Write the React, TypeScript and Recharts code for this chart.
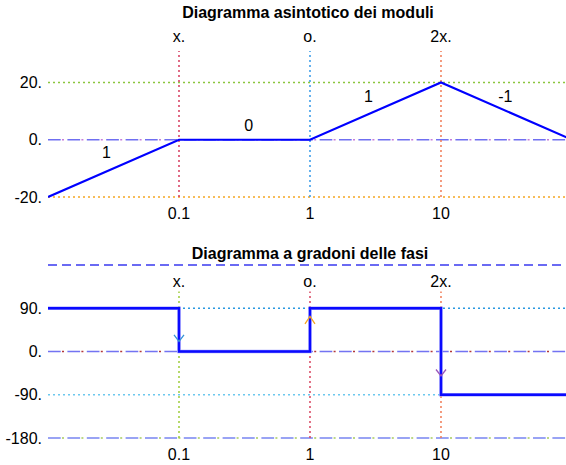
import React from 'react';
import { ComposedChart, Line, XAxis, YAxis, ReferenceLine, Scatter } from 'recharts';

// ---- data ----
const magFreqs = [0.01, 0.1, 1, 10, 100];
const magValues = [-20, 0, 0, 20, 0];
const phaseFreqs = [0.01, 0.1, 0.1, 1, 1, 10, 10, 100];
const phaseValues = [90, 90, 0, 0, 90, 90, -90, -90];
const breakFreqs = [0.1, 1, 10];
const breakLabels = ['x.', 'o.', '2x.'];
const freqTicks = [0.1, 1, 10];
const magTicks = [-20, 0, 20];
const phaseTicks = [-180, -90, 0, 90];
const slopeLabelFreqs = [0.028, 0.34, 2.8, 31];
const slopeLabelValues = [-4.5, 4.9, 15.1, 15.1];
const slopeLabelTexts = ['1', '0', '1', '-1'];
const arrowFreqs = [0.1, 1, 10];
const arrowValues = [21, 73, -51];
const arrowDirs = ['down', 'up', 'down'];
const titles = ['Diagramma asintotico dei moduli', 'Diagramma a gradoni delle fasi'];

// ---- styles ----
const FONT = '"Liberation Sans", Arial, sans-serif';
const FS = 16;
const magVColors = ['#d63a5e', '#3398e8', '#f07a55'];
const phaseVColors = ['#9ccc3a', '#d8425e', '#f07a55'];
const arrowColors = ['#3393d6', '#f5a623', '#9b55b8'];
const DOT = '2 3';

const magData = magFreqs.map((f, i) => ({ f, v: magValues[i] }));
const phaseData = phaseFreqs.map((f, i) => ({ f, v: phaseValues[i] }));
const slopeData = slopeLabelFreqs.map((f, i) => ({ f, v: slopeLabelValues[i], t: slopeLabelTexts[i] }));
const arrowData = arrowFreqs.map((f, i) => ({ f, v: arrowValues[i], d: arrowDirs[i], c: arrowColors[i] }));

const tickStyle = { fill: '#000', fontSize: FS, fontFamily: FONT };

const SlopeText = (props: any) => {
  const { cx, cy, payload } = props;
  return (
    <text x={cx} y={cy} textAnchor="middle" dominantBaseline="central" fontSize={FS} fontFamily={FONT} fill="#000">
      {payload.t}
    </text>
  );
};

const Chevron = (props: any) => {
  const { cx, cy, payload } = props;
  const s = payload.d === 'down' ? -6.5 : 7.5;
  return (
    <path d={`M${cx - 5},${cy + s} L${cx},${cy} L${cx + 5},${cy + s}`} fill="none" stroke={payload.c} strokeWidth={1.3} />
  );
};

const xAxisProps = {
  dataKey: 'f',
  type: 'number' as const,
  scale: 'log' as const,
  domain: [0.01, 90],
  allowDataOverflow: true,
  ticks: freqTicks,
  tickFormatter: (v: number) => String(v),
  axisLine: false,
  tickLine: false,
  tickSize: 0,
  tickMargin: 11,
  tick: tickStyle,
  interval: 0 as const,
};

const DashDotLine = (y: number, base: string, dot: string) => [
  <ReferenceLine key={`b${y}`} y={y} stroke={base} strokeWidth={1.6} strokeDasharray="12.7 6.7" ifOverflow="visible" />,
  <ReferenceLine key={`d${y}`} y={y} stroke={dot} strokeWidth={1.6} strokeDasharray="2 17.4" strokeDashoffset={-14} ifOverflow="visible" />,
];

export default function App() {
  return (
    <div style={{ position: 'absolute', left: 0, top: 0, width: 566, height: 465, background: '#fff' }}>
      <div style={{ position: 'absolute', left: 48, width: 520, top: 5, textAlign: 'center', fontFamily: FONT, fontWeight: 'bold', fontSize: 16, lineHeight: '16px' }}>
        {titles[0]}
      </div>
      <div style={{ position: 'absolute', left: 48, width: 524, top: 245.5, textAlign: 'center', fontFamily: FONT, fontWeight: 'bold', fontSize: 16, lineHeight: '16px' }}>
        {titles[1]}
      </div>

      <div style={{ position: 'absolute', left: 0, top: 0 }}>
        <ComposedChart width={566} height={232} margin={{ top: 51, right: 0, left: 0, bottom: 5 }}>
          <XAxis {...xAxisProps} height={30} />
          <YAxis type="number" domain={[-20, 31]} ticks={magTicks} tickFormatter={(v: number) => `${v}.`} axisLine={false} tickLine={false} tickSize={0} tickMargin={6} tick={tickStyle} width={48} interval={0} />
          <ReferenceLine y={20} stroke="#8cc63f" strokeWidth={1.5} strokeDasharray={DOT} />
          <ReferenceLine y={-20} stroke="#f5a623" strokeWidth={1.5} strokeDasharray={DOT} ifOverflow="visible" />
          {DashDotLine(0, 'rgba(95,95,240,0.9)', '#c77ddb')}
          {breakFreqs.map((f, i) => (
            <ReferenceLine key={`mv${i}`} x={f} stroke={magVColors[i]} strokeWidth={1.5} strokeDasharray={DOT}
              label={{ value: breakLabels[i], position: 'top', offset: 9, fill: '#000', fontSize: FS, fontFamily: FONT }} />
          ))}
          <Line data={magData} dataKey="v" type="linear" stroke="#0000ff" strokeWidth={2.2} dot={false} isAnimationActive={false} />
          <Scatter data={slopeData} dataKey="v" shape={SlopeText} isAnimationActive={false} />
        </ComposedChart>
      </div>

      <div style={{ position: 'absolute', left: 0, top: 232 }}>
        <ComposedChart width={566} height={233} margin={{ top: 33, right: 0, left: 0, bottom: 2 }}>
          <XAxis {...xAxisProps} height={25} />
          <YAxis type="number" domain={[-180, 180]} ticks={phaseTicks} tickFormatter={(v: number) => `${v}.`} axisLine={false} tickLine={false} tickSize={0} tickMargin={6} tick={tickStyle} width={48} interval={0} />
          <ReferenceLine y={180} stroke="#3a3af0" strokeWidth={1.5} strokeDasharray="9 5" ifOverflow="visible" />
          <ReferenceLine y={90} stroke="#2a98e0" strokeWidth={1.5} strokeDasharray={DOT} />
          <ReferenceLine y={-90} stroke="#6cc8ee" strokeWidth={1.5} strokeDasharray={DOT} />
          {DashDotLine(0, 'rgba(90,90,240,0.85)', '#b3383a')}
          {DashDotLine(-180, 'rgba(105,120,238,0.9)', '#a6cc5e')}
          {breakFreqs.map((f, i) => (
            <ReferenceLine key={`pv${i}`} segment={[{ x: f, y: -180 }, { x: f, y: 125 }]} stroke={phaseVColors[i]} strokeWidth={1.5} strokeDasharray={DOT} ifOverflow="visible"
              label={{ value: breakLabels[i], position: 'top', offset: 4, fill: '#000', fontSize: FS, fontFamily: FONT }} />
          ))}
          <Line data={phaseData} dataKey="v" type="linear" stroke="#a0a0ff" strokeWidth={3.6} dot={false} isAnimationActive={false} />
          <Line data={phaseData} dataKey="v" type="linear" stroke="#0a0aff" strokeWidth={2.3} dot={false} isAnimationActive={false} />
          <Scatter data={arrowData} dataKey="v" shape={Chevron} isAnimationActive={false} />
        </ComposedChart>
      </div>
    </div>
  );
}
